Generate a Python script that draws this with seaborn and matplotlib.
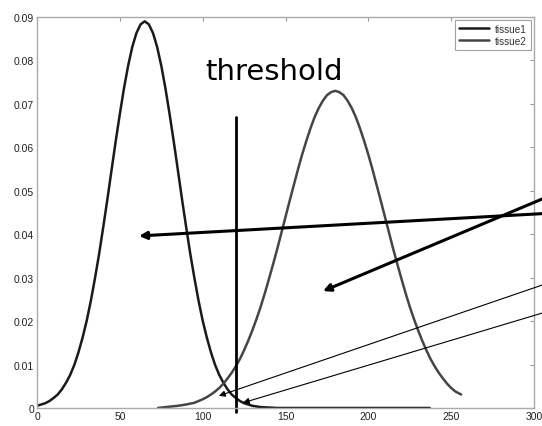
import numpy as np
import pandas as pd
import matplotlib
matplotlib.use("Agg")
import matplotlib.pyplot as plt
import seaborn as sns

# ---- data ----
t1_x = [0, 2.5, 5, 7.5, 10, 12.5, 15, 17.5, 20, 22.5, 25, 27.5, 30, 32.5, 35, 37.5, 40,
        42.5, 45, 47.5, 50, 52.5, 55, 57.5, 60, 62.5, 65, 67.5, 70, 72.5, 75, 77.5, 80,
        82.5, 85, 87.5, 90, 92.5, 95, 97.5, 100, 102.5, 105, 107.5, 110, 112.5, 115,
        117.5, 120, 122.5, 125, 127.5, 130, 135, 140, 145, 160, 180, 200, 220, 237]
t1_y = [0.0005, 0.0008, 0.0011, 0.0016, 0.0023, 0.0031, 0.0043, 0.0058, 0.0076, 0.0099,
        0.0128, 0.0162, 0.0201, 0.0247, 0.0299, 0.0355, 0.0417, 0.0481, 0.0548, 0.0614,
        0.0677, 0.0736, 0.0788, 0.0831, 0.0863, 0.0883, 0.0890, 0.0883, 0.0863, 0.0831,
        0.0788, 0.0736, 0.0677, 0.0614, 0.0548, 0.0481, 0.0417, 0.0355, 0.0299, 0.0247,
        0.0201, 0.0162, 0.0128, 0.0099, 0.0076, 0.0058, 0.0043, 0.0031, 0.0023, 0.0016,
        0.0011, 0.0008, 0.0005, 0.0002, 0.0001, 0.0, 0.0, 0.0, 0.0, 0.0, 0.0]
t2_x = [73, 75, 80, 85, 90, 95, 100, 102.5, 105, 107.5, 110, 112.5, 115, 117.5, 120,
        122.5, 125, 127.5, 130, 132.5, 135, 137.5, 140, 142.5, 145, 147.5, 150, 152.5,
        155, 157.5, 160, 162.5, 165, 167.5, 170, 172.5, 175, 177.5, 180, 182.5, 185,
        187.5, 190, 192.5, 195, 197.5, 200, 202.5, 205, 207.5, 210, 212.5, 215, 217.5,
        220, 222.5, 225, 227.5, 230, 232.5, 235, 237.5, 240, 242.5, 245, 247.5, 250,
        252.5, 256]
t2_y = [0.0, 0.0001, 0.0003, 0.0005, 0.0008, 0.0012, 0.0020, 0.0025, 0.0031, 0.0038,
        0.0046, 0.0056, 0.0068, 0.0081, 0.0096, 0.0113, 0.0133, 0.0155, 0.0179, 0.0205,
        0.0233, 0.0264, 0.0297, 0.0331, 0.0366, 0.0403, 0.0440, 0.0477, 0.0513, 0.0549,
        0.0583, 0.0614, 0.0643, 0.0669, 0.0690, 0.0707, 0.0720, 0.0727, 0.0730, 0.0727,
        0.0720, 0.0707, 0.0690, 0.0669, 0.0643, 0.0614, 0.0583, 0.0549, 0.0513, 0.0477,
        0.0440, 0.0403, 0.0366, 0.0331, 0.0297, 0.0264, 0.0233, 0.0205, 0.0179, 0.0155,
        0.0133, 0.0113, 0.0096, 0.0081, 0.0068, 0.0056, 0.0046, 0.0038, 0.0031]
series_names = ["tissue1", "tissue2"]
threshold_x = 120
threshold_y = [-0.001, 0.067]
x_ticks = [0, 50, 100, 150, 200, 250, 300]
y_ticks = [0, 0.01, 0.02, 0.03, 0.04, 0.05, 0.06, 0.07, 0.08, 0.09]
y_tick_labels = ["0", "0.01", "0.02", "0.03", "0.04", "0.05", "0.06", "0.07", "0.08", "0.09"]
label_text = "threshold"
# arrows: head and tail positions (data units), thickness flag
arrow_head_x = [61.6, 172.6, 109.8, 124.3]
arrow_head_y = [0.0396, 0.0269, 0.0028, 0.0012]
arrow_tail_x = [308, 308, 308, 308]
arrow_tail_y = [0.0448, 0.0486, 0.0287, 0.0222]
arrow_thick = [True, True, False, False]

sns.set_style("white")
plt.rcParams["font.family"] = ["Liberation Sans", "DejaVu Sans"]

df1 = pd.DataFrame({"x": t1_x, "y": t1_y})
df2 = pd.DataFrame({"x": t2_x, "y": t2_y})

fig = plt.figure(figsize=(5.42, 4.27), dpi=100)
ax = fig.add_axes([0.0683, 0.0422, 0.917, 0.9157])

sns.lineplot(data=df1, x="x", y="y", ax=ax, color="#1a1a1a", lw=1.8, label=series_names[0])
sns.lineplot(data=df2, x="x", y="y", ax=ax, color="#454545", lw=1.8, label=series_names[1])

ax.set_xlim(0, 300)
ax.set_ylim(0, 0.09)
ax.set_xticks(x_ticks)
ax.set_xticklabels([str(v) for v in x_ticks])
ax.set_yticks(y_ticks)
ax.set_yticklabels(y_tick_labels)
ax.set_xlabel("")
ax.set_ylabel("")
ax.tick_params(direction="in", length=3, width=0.8, color="#999999",
               labelsize=7.5, labelcolor="#222222", top=True, right=True, pad=2)
for s in ax.spines.values():
    s.set_visible(True)
    s.set_color("#aaaaaa")
    s.set_linewidth(1.0)

# threshold line
ax.plot([threshold_x, threshold_x], threshold_y, color="black", lw=2, clip_on=False)
ax.text(0.476, 0.862, label_text, transform=ax.transAxes, ha="center", va="center",
        fontsize=21, family=["DejaVu Sans"], color="black")

for hx, hy, tx, ty, thick in zip(arrow_head_x, arrow_head_y, arrow_tail_x, arrow_tail_y, arrow_thick):
    ax.annotate("", xy=(hx, hy), xytext=(tx, ty), xycoords="data", textcoords="data",
                annotation_clip=False,
                arrowprops=dict(arrowstyle="-|>", color="black",
                                lw=2.2 if thick else 0.8,
                                mutation_scale=11 if thick else 9,
                                shrinkA=0, shrinkB=0))

leg = ax.legend(loc="upper right", fontsize=7.2, frameon=True, fancybox=False,
                handlelength=3.0, borderpad=0.4, labelspacing=0.2, handletextpad=0.6,
                borderaxespad=0.3)
leg.get_frame().set_edgecolor("#888888")
leg.get_frame().set_linewidth(0.8)
for t in leg.get_texts():
    t.set_color("#333333")

fig.savefig("out.png", dpi=100)
